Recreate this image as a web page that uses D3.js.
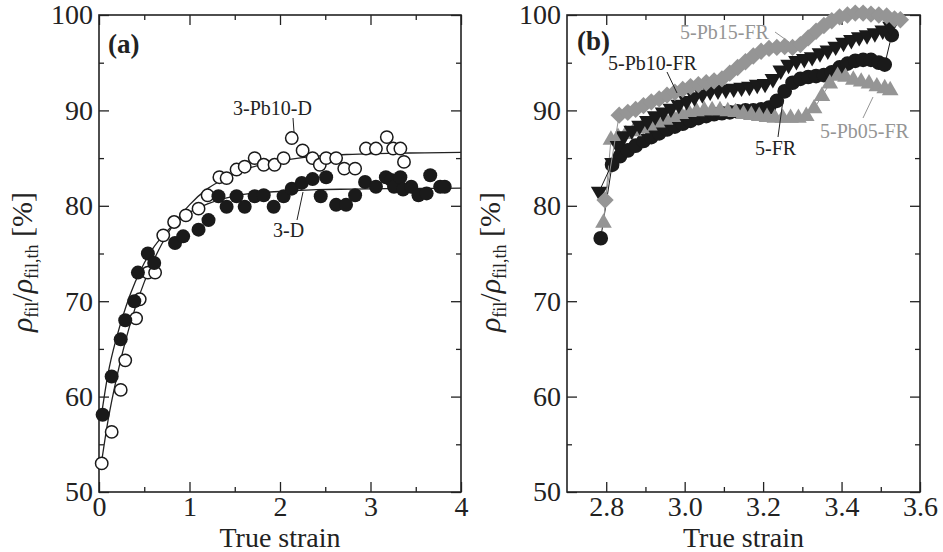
<!DOCTYPE html>
<meta charset="utf-8">
<style>
  body { margin: 0; background: #fff; }
  svg, svg text { font-family: "Liberation Serif", "Times New Roman", serif; }
  .tick text { font-size: 28px; fill: #222; font-family: "Liberation Serif", "Times New Roman", serif; }
  .tick line { stroke: #222; stroke-width: 1.3; }
  .frame { fill: none; stroke: #222; stroke-width: 1.6; }
</style>
<body>
<script src="https://d3js.org/d3.v7.min.js"></script>
<script>

var W = 943, H = 552;
var top_ = 15, bottom_ = 492;

// ---- panel (a) ----
var x3D = [0.04,0.14,0.24,0.29,0.39,0.43,0.54,0.61,0.84,0.93,1.10,1.21,1.32,1.41,1.52,1.61,1.72,1.82,1.93,2.04,2.13,2.24,2.36,2.45,2.51,2.62,2.73,2.83,2.94,3.06,3.17,3.23,3.26,3.33,3.36,3.45,3.53,3.62,3.66,3.77,3.82];
var y3D = [58.1,62.1,66.0,68.0,70.0,73.0,75.0,74.0,76.1,76.8,77.5,78.5,81.0,79.9,81.0,79.9,81.0,81.1,79.9,81.0,81.8,82.4,82.8,81.0,83.0,80.1,80.1,81.1,82.5,82.0,83.0,82.7,82.0,83.0,81.7,82.0,81.1,81.3,83.2,82.0,82.0];

var xPb10D = [0.03,0.14,0.24,0.29,0.41,0.45,0.54,0.62,0.71,0.83,0.96,1.10,1.20,1.33,1.41,1.52,1.61,1.72,1.82,1.94,2.04,2.13,2.25,2.36,2.44,2.51,2.62,2.71,2.83,2.95,3.06,3.18,3.25,3.33,3.37];
var yPb10D = [53.0,56.3,60.7,63.8,68.2,70.2,73.0,73.0,76.9,78.3,79.0,79.7,81.1,83.0,82.9,83.8,84.1,85.0,84.3,84.3,85.0,87.1,85.8,85.0,84.3,85.0,85.0,83.9,83.9,86.0,86.0,87.2,86.0,86.0,84.6];

// fitted curves
var fitX = [0.02,0.1,0.2,0.3,0.4,0.5,0.6,0.7,0.8,0.9,1.0,1.2,1.4,1.6,1.8,2.0,2.4,2.8,3.2,3.6,4.0];
var fitOpenY = [52.6,57.5,62.2,66.1,69.3,72.0,74.2,76.1,77.7,79.0,80.1,81.8,82.9,83.8,84.3,84.7,85.2,85.4,85.5,85.55,85.6];
var fitFilledY = [57.6,62.4,66.4,69.5,72.0,74.0,75.6,76.8,77.8,78.6,79.3,80.2,80.8,81.2,81.4,81.5,81.7,81.75,81.8,81.82,81.85];

// ---- panel (b) ----
var xFR = [2.786,2.815,2.835,2.855,2.875,2.895,2.915,2.935,2.955,2.975,2.995,3.015,3.035,3.055,3.075,3.095,3.115,3.135,3.155,3.175,3.195,3.215,3.235,3.255,3.275,3.295,3.315,3.335,3.355,3.375,3.395,3.415,3.435,3.455,3.475,3.495,3.51,3.528];
var yFR = [76.6,84.3,85.2,85.8,86.3,86.8,87.2,87.6,88.0,88.3,88.6,88.9,89.2,89.4,89.6,89.7,89.8,89.9,90.0,90.0,90.1,90.3,91.0,92.0,92.9,93.3,93.5,93.6,93.7,94.0,94.5,94.9,95.2,95.3,95.3,95.0,94.8,97.9];

var xPb05 = [2.793,2.812,2.83,2.85,2.87,2.89,2.91,2.93,2.95,2.97,2.99,3.01,3.03,3.05,3.07,3.09,3.11,3.13,3.15,3.17,3.19,3.21,3.23,3.25,3.27,3.29,3.31,3.33,3.35,3.37,3.39,3.41,3.43,3.45,3.47,3.49,3.51,3.524];
var yPb05 = [78.2,86.9,87.2,87.5,87.8,88.1,88.4,88.7,89.0,89.3,89.6,89.8,89.9,90.0,90.0,90.0,89.9,89.8,89.6,89.5,89.4,89.3,89.2,89.2,89.2,89.2,89.4,90.2,91.5,92.8,93.6,93.5,93.2,93.0,92.8,92.5,92.3,92.1];

var xPb10 = [2.782,2.816,2.83,2.845,2.865,2.885,2.905,2.925,2.945,2.965,2.985,3.005,3.025,3.045,3.065,3.085,3.105,3.125,3.145,3.165,3.185,3.205,3.225,3.245,3.265,3.285,3.305,3.325,3.345,3.365,3.385,3.405,3.425,3.445,3.465,3.485,3.505,3.525];
var yPb10 = [81.5,84.5,86.3,87.3,87.9,88.4,88.9,89.4,89.8,90.2,90.6,91.0,91.4,91.7,92.0,92.1,92.2,92.3,92.4,92.5,92.7,92.8,93.3,94.2,94.8,95.2,95.4,95.6,96.0,96.3,96.7,97.1,97.4,97.7,97.9,98.1,98.4,98.8];

var xPb15 = [2.797,2.833,2.855,2.875,2.895,2.915,2.935,2.955,2.975,2.995,3.015,3.035,3.055,3.075,3.095,3.115,3.135,3.155,3.175,3.195,3.215,3.235,3.255,3.275,3.295,3.315,3.335,3.355,3.375,3.395,3.415,3.435,3.455,3.475,3.495,3.515,3.535,3.55];
var yPb15 = [80.6,89.5,89.8,90.1,90.5,90.9,91.2,91.6,91.9,92.2,92.5,92.7,92.9,93.1,93.3,93.9,94.5,95.1,95.7,96.2,96.5,96.6,96.7,96.6,96.9,97.6,98.3,98.9,99.4,99.8,100.0,100.2,100.2,100.1,100.0,99.9,99.6,99.5];

var yTicks = [50,60,70,80,90,100];
var yMinor = [55,65,75,85,95];

var gray = "#959595";

var svg = d3.select("body").append("svg")
    .attr("width", W).attr("height", H);

function zip(xs, ys) {
    return xs.map(function(v, i) { return [v, ys[i]]; });
}

function panel(left, right, xdom, xMajor, xMinorT, fmt) {
    var x = d3.scaleLinear().domain(xdom).range([left, right]);
    var y = d3.scaleLinear().domain([50, 100]).range([bottom_, top_]);
    var g = svg.append("g");

    // bottom / top
    g.append("g").attr("transform", "translate(0," + bottom_ + ")")
        .call(d3.axisBottom(x).tickValues(xMajor).tickFormat(fmt).tickSizeInner(-10).tickSizeOuter(0).tickPadding(4));
    g.append("g").attr("transform", "translate(0," + bottom_ + ")")
        .call(d3.axisBottom(x).tickValues(xMinorT).tickFormat("").tickSizeInner(-5).tickSizeOuter(0));
    g.append("g").attr("transform", "translate(0," + top_ + ")")
        .call(d3.axisTop(x).tickValues(xMajor).tickFormat("").tickSizeInner(-10).tickSizeOuter(0));
    g.append("g").attr("transform", "translate(0," + top_ + ")")
        .call(d3.axisTop(x).tickValues(xMinorT).tickFormat("").tickSizeInner(-5).tickSizeOuter(0));
    // left / right
    g.append("g").attr("transform", "translate(" + left + ",0)")
        .call(d3.axisLeft(y).tickValues(yTicks).tickSizeInner(-10).tickSizeOuter(0).tickPadding(6));
    g.append("g").attr("transform", "translate(" + left + ",0)")
        .call(d3.axisLeft(y).tickValues(yMinor).tickFormat("").tickSizeInner(-5).tickSizeOuter(0));
    g.append("g").attr("transform", "translate(" + right + ",0)")
        .call(d3.axisRight(y).tickValues(yTicks).tickFormat("").tickSizeInner(-10).tickSizeOuter(0));
    g.append("g").attr("transform", "translate(" + right + ",0)")
        .call(d3.axisRight(y).tickValues(yMinor).tickFormat("").tickSizeInner(-5).tickSizeOuter(0));

    g.selectAll(".domain").remove();
    g.selectAll("g").attr("font-family", null).attr("font-size", null);

    g.append("rect").attr("class", "frame")
        .attr("x", left).attr("y", top_)
        .attr("width", right - left).attr("height", bottom_ - top_);

    // x title
    g.append("text").attr("x", (left + right) / 2).attr("y", 547)
        .attr("text-anchor", "middle").style("font-size", "28px").attr("fill", "#222")
        .text("True strain");

    // y title
    var yt = g.append("text")
        .attr("transform", "translate(" + (left - 67) + ",262) rotate(-90)")
        .attr("text-anchor", "middle").style("font-size", "30px").attr("fill", "#222");
    yt.append("tspan").style("font-style", "italic").text("ρ");
    yt.append("tspan").attr("dy", 6).style("font-size", "18px").text("fil");
    yt.append("tspan").attr("dy", -6).text("/");
    yt.append("tspan").style("font-style", "italic").text("ρ");
    yt.append("tspan").attr("dy", 6).style("font-size", "18px").text("fil,th");
    yt.append("tspan").attr("dy", -6).text(" [%]");

    return {g: g, x: x, y: y};
}

// ---------- panel (a) ----------
var A = panel(99, 461, [0, 4], [0,1,2,3,4], [0.5,1.5,2.5,3.5], d3.format("d"));

var lineA = d3.line().x(function(d) { return A.x(d[0]); }).y(function(d) { return A.y(d[1]); })
    .curve(d3.curveMonotoneX);

A.g.append("path").datum(zip(fitX, fitOpenY)).attr("d", lineA)
    .attr("fill", "none").attr("stroke", "#222").attr("stroke-width", 1.3);
A.g.append("path").datum(zip(fitX, fitFilledY)).attr("d", lineA)
    .attr("fill", "none").attr("stroke", "#222").attr("stroke-width", 1.3);

A.g.selectAll(".open").data(zip(xPb10D, yPb10D)).enter().append("circle")
    .attr("cx", function(d) { return A.x(d[0]); })
    .attr("cy", function(d) { return A.y(d[1]); })
    .attr("r", 6.2).attr("fill", "#fff").attr("stroke", "#1a1a1a").attr("stroke-width", 1.5);

A.g.selectAll(".filled").data(zip(x3D, y3D)).enter().append("circle")
    .attr("cx", function(d) { return A.x(d[0]); })
    .attr("cy", function(d) { return A.y(d[1]); })
    .attr("r", 7).attr("fill", "#1a1a1a");

A.g.append("text").attr("x", 108).attr("y", 53).style("font-size", "27px")
    .style("font-weight", "bold").attr("fill", "#222").text("(a)");

A.g.append("text").attr("x", 233).attr("y", 115).style("font-size", "20px").attr("fill", "#222").text("3-Pb10-D");
A.g.append("line").attr("x1", 293).attr("y1", 118).attr("x2", 294).attr("y2", 132).attr("stroke", "#222");
A.g.append("text").attr("x", 273).attr("y", 237).style("font-size", "20px").attr("fill", "#222").text("3-D");
A.g.append("line").attr("x1", 297).attr("y1", 220).attr("x2", 303).attr("y2", 192).attr("stroke", "#222");

// ---------- panel (b) ----------
var B = panel(567, 920, [2.7, 3.6], [2.8,3.0,3.2,3.4,3.6], [2.9,3.1,3.3,3.5], d3.format(".1f"));

var lineB = d3.line().x(function(d) { return B.x(d[0]); }).y(function(d) { return B.y(d[1]); });

function series(xs, ys, color, symbol, size, rot) {
    var pts = zip(xs, ys);
    B.g.append("path").datum(pts).attr("d", lineB)
        .attr("fill", "none").attr("stroke", color).attr("stroke-width", 1);
    B.g.append("g").selectAll("path").data(pts).enter().append("path")
        .attr("d", d3.symbol().type(symbol).size(size))
        .attr("transform", function(d) {
            return "translate(" + B.x(d[0]) + "," + B.y(d[1]) + ") rotate(" + rot + ")";
        })
        .attr("fill", color);
}

series(xFR, yFR, "#1a1a1a", d3.symbolCircle, 170, 0);
series(xPb05, yPb05, gray, d3.symbolTriangle, 120, 0);
series(xPb10, yPb10, "#1a1a1a", d3.symbolTriangle, 120, 180);
series(xPb15, yPb15, gray, d3.symbolSquare, 150, 45);

B.g.append("text").attr("x", 577).attr("y", 50).style("font-size", "27px")
    .style("font-weight", "bold").attr("fill", "#222").text("(b)");

B.g.append("text").attr("x", 680).attr("y", 39).style("font-size", "20px").attr("fill", gray).text("5-Pb15-FR");
B.g.append("line").attr("x1", 775).attr("y1", 32).attr("x2", 789).attr("y2", 42).attr("stroke", gray);
B.g.append("text").attr("x", 608).attr("y", 70).style("font-size", "20px").attr("fill", "#222").text("5-Pb10-FR");
B.g.append("line").attr("x1", 667).attr("y1", 72).attr("x2", 677).attr("y2", 93).attr("stroke", "#222");
B.g.append("text").attr("x", 755).attr("y", 155).style("font-size", "20px").attr("fill", "#222").text("5-FR");
B.g.append("line").attr("x1", 778).attr("y1", 137).attr("x2", 783).attr("y2", 100).attr("stroke", "#222");
B.g.append("text").attr("x", 820).attr("y", 138).style("font-size", "20px").attr("fill", gray).text("5-Pb05-FR");
B.g.append("line").attr("x1", 863).attr("y1", 118).attr("x2", 873).attr("y2", 97).attr("stroke", gray);

</script>
</body>
